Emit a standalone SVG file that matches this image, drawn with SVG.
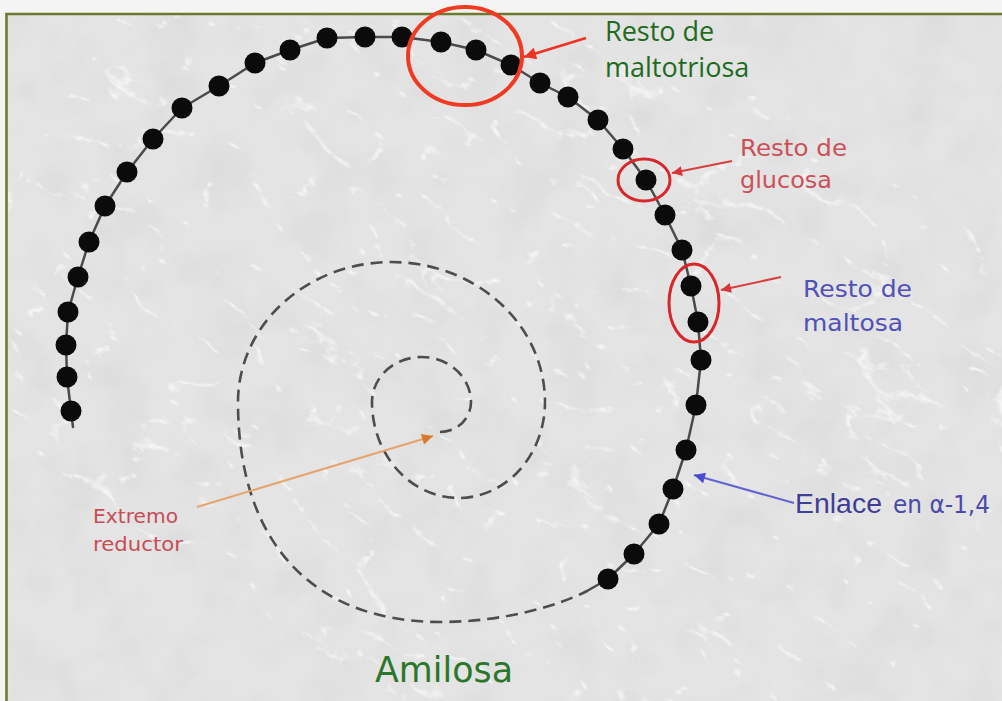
<svg xmlns="http://www.w3.org/2000/svg" width="1002" height="701" viewBox="0 0 1002 701">
  <defs>
    <style>
      .dot { fill: #0b0b0b; }
      .chain { fill: none; stroke: #4a4a4a; stroke-width: 2.5; stroke-linejoin: round; stroke-linecap: round; }
      .spiral { fill: none; stroke: #4d4d4d; stroke-width: 2.6; stroke-dasharray: 12 7; stroke-linecap: butt; }
      .ring-big { fill: none; stroke: #f03a22; stroke-width: 4; }
      .ring { fill: none; stroke: #d8272a; stroke-width: 3; }
      .lbl-green { font-family: "Open Sans", "Liberation Sans", sans-serif; font-size: 27px; fill: #1d6b1d; }
      .lbl-small { font-family: "DejaVu Sans", Verdana, sans-serif; font-size: 23px; }
      .pink { fill: #cd5059; }
      .blue { fill: #5050b8; }
    </style>
    <!-- marble-like paper texture: thin light veins -->
    <filter id="marble" x="0" y="0" width="100%" height="100%" filterUnits="userSpaceOnUse">
      <feTurbulence type="turbulence" baseFrequency="0.012 0.022" numOctaves="5" seed="11" result="t"/>
      <feColorMatrix in="t" type="matrix" values="0 0 0 0 1  0 0 0 0 1  0 0 0 0 1  -8 0 0 0 1.2"/>
    </filter>
    <filter id="mottle" x="0" y="0" width="100%" height="100%" filterUnits="userSpaceOnUse">
      <feTurbulence type="fractalNoise" baseFrequency="0.02" numOctaves="3" seed="4" result="n"/>
      <feColorMatrix in="n" type="matrix" values="0 0 0 0 0.5  0 0 0 0 0.5  0 0 0 0 0.5  1.6 0 0 0 -0.7"/>
    </filter>
    <clipPath id="frameClip">
      <rect x="8" y="15" width="994" height="686"/>
    </clipPath>
    <marker id="arrRed" viewBox="0 0 10 10" refX="10" refY="5" markerWidth="16" markerHeight="12" markerUnits="userSpaceOnUse" orient="auto">
      <path d="M0,0 L10,5 L0,10 z" fill="#ee3322"/>
    </marker>
    <marker id="arrRed2" viewBox="0 0 10 10" refX="10" refY="5" markerWidth="13" markerHeight="10" markerUnits="userSpaceOnUse" orient="auto">
      <path d="M0,0 L10,5 L0,10 z" fill="#d8353a"/>
    </marker>
    <marker id="arrBlue" viewBox="0 0 10 10" refX="10" refY="5" markerWidth="15" markerHeight="11" markerUnits="userSpaceOnUse" orient="auto">
      <path d="M0,0 L10,5 L0,10 z" fill="#4a4ad0"/>
    </marker>
    <marker id="arrOrange" viewBox="0 0 10 10" refX="10" refY="5" markerWidth="13" markerHeight="11" markerUnits="userSpaceOnUse" orient="auto">
      <path d="M0,0 L10,5 L0,10 z" fill="#d7782a"/>
    </marker>
  </defs>

  <!-- page and framed panel -->
  <rect x="0" y="0" width="1002" height="701" fill="#f4f4f4"/>
  <rect x="8" y="15" width="994" height="686" fill="#e4e4e4"/>
  <g clip-path="url(#frameClip)">
    <rect x="8" y="15" width="994" height="686" filter="url(#mottle)" opacity="0.25"/>
    <g transform="rotate(32 500 350)" opacity="0.7">
      <rect x="-400" y="-400" width="1800" height="1500" filter="url(#marble)"/>
    </g>
  </g>
  <path d="M6.5,701 V14 H1002" fill="none" stroke="#6b7a2e" stroke-width="2.6"/>

  <!-- dashed spiral core of the helix -->
  <g id="spiral">
    <path class="spiral" d="M440,432 A31,30 0 0 0 471,402 A49.5,45 0 0 0 372,402 A86.5,96 0 0 0 545,402 A153.5,140 0 0 0 238,402 C238,550 320,622 440,622 C505,622 560,605 587,591"/>
  </g>

  <!-- glucose chain -->
  <g id="chain">
    <polyline class="chain" points="73,427 71,411 67,377 66,345 68,312 78,277 89,242 105,206 127,172 153,139 182,108 219,86 255,63 290,50 327,38 365,37 402,37 441,42 476,50 511,65 540,83 568,97 598,120 623,149 646,180 665,215 682,250 691,286 698,322 701,360 696,405 686,450 673,489 659,524 634,554 608,579 587,591"/>
    <g class="dot">
      <circle cx="71" cy="411" r="10.5"/><circle cx="67" cy="377" r="10.5"/><circle cx="66" cy="345" r="10.5"/>
      <circle cx="68" cy="312" r="10.5"/><circle cx="78" cy="277" r="10.5"/><circle cx="89" cy="242" r="10.5"/>
      <circle cx="105" cy="206" r="10.5"/><circle cx="127" cy="172" r="10.5"/><circle cx="153" cy="139" r="10.5"/>
      <circle cx="182" cy="108" r="10.5"/><circle cx="219" cy="86" r="10.5"/><circle cx="255" cy="63" r="10.5"/>
      <circle cx="290" cy="50" r="10.5"/><circle cx="327" cy="38" r="10.5"/><circle cx="365" cy="37" r="10.5"/>
      <circle cx="402" cy="37" r="10.5"/><circle cx="441" cy="42" r="10.5"/><circle cx="476" cy="50" r="10.5"/>
      <circle cx="511" cy="65" r="10.5"/><circle cx="540" cy="83" r="10.5"/><circle cx="568" cy="97" r="10.5"/>
      <circle cx="598" cy="120" r="10.5"/><circle cx="623" cy="149" r="10.5"/><circle cx="646" cy="180" r="10.5"/>
      <circle cx="665" cy="215" r="10.5"/><circle cx="682" cy="250" r="10.5"/><circle cx="691" cy="286" r="10.5"/>
      <circle cx="698" cy="322" r="10.5"/><circle cx="701" cy="360" r="10.5"/><circle cx="696" cy="405" r="10.5"/>
      <circle cx="686" cy="450" r="10.5"/><circle cx="673" cy="489" r="10.5"/><circle cx="659" cy="524" r="10.5"/>
      <circle cx="634" cy="554" r="10.5"/><circle cx="608" cy="579" r="10.5"/>
    </g>
  </g>

  <!-- highlighted residues -->
  <g id="ring-maltotriosa"><ellipse class="ring-big" cx="465" cy="56" rx="57" ry="49"/></g>
  <g id="ring-glucosa"><ellipse class="ring" cx="644" cy="180" rx="26" ry="21"/></g>
  <g id="ring-maltosa"><ellipse class="ring" cx="694" cy="303" rx="25" ry="39"/></g>

  <!-- pointer arrows -->
  <g id="connectors" fill="none">
    <line x1="586" y1="38" x2="524" y2="57" stroke="#ee3322" stroke-width="2.5" marker-end="url(#arrRed)"/>
    <line x1="732" y1="161" x2="672" y2="173" stroke="#d8403f" stroke-width="2" marker-end="url(#arrRed2)"/>
    <line x1="781" y1="277" x2="721" y2="290" stroke="#d8403f" stroke-width="2" marker-end="url(#arrRed2)"/>
    <line x1="794" y1="503" x2="694" y2="475" stroke="#6262d2" stroke-width="2" marker-end="url(#arrBlue)"/>
    <line x1="197" y1="507" x2="433" y2="436" stroke="#e6a46c" stroke-width="2" marker-end="url(#arrOrange)"/>
  </g>

  <!-- labels -->
  <g id="label-maltotriosa" class="lbl-green">
    <text x="605" y="41">Resto de</text>
    <text x="605" y="77">maltotriosa</text>
  </g>
  <g id="label-glucosa" class="lbl-small pink">
    <text x="740" y="156" textLength="107" lengthAdjust="spacingAndGlyphs">Resto de</text>
    <text x="740" y="188" textLength="92" lengthAdjust="spacingAndGlyphs">glucosa</text>
  </g>
  <g id="label-maltosa" class="lbl-small blue">
    <text x="803" y="297" textLength="109" lengthAdjust="spacingAndGlyphs">Resto de</text>
    <text x="803" y="331" textLength="100" lengthAdjust="spacingAndGlyphs">maltosa</text>
  </g>
  <g id="label-enlace">
    <text x="795" y="513" font-family="Liberation Sans, Arial, sans-serif" font-size="27" fill="#3e3e98" textLength="87" lengthAdjust="spacingAndGlyphs">Enlace</text>
    <text x="893" y="513" font-family="DejaVu Sans, Verdana, sans-serif" font-size="25" fill="#4a4aaa" textLength="97" lengthAdjust="spacingAndGlyphs">en α-1,4</text>
  </g>
  <g id="label-extremo" font-family="DejaVu Sans, Verdana, sans-serif" font-size="20" fill="#c84c56">
    <text x="93" y="523" textLength="85" lengthAdjust="spacingAndGlyphs">Extremo</text>
    <text x="93" y="551" textLength="90" lengthAdjust="spacingAndGlyphs">reductor</text>
  </g>
  <g id="title">
    <text x="375" y="682" font-family="DejaVu Sans, Verdana, sans-serif" font-size="35" fill="#2b762b" textLength="138" lengthAdjust="spacingAndGlyphs">Amilosa</text>
  </g>
</svg>
